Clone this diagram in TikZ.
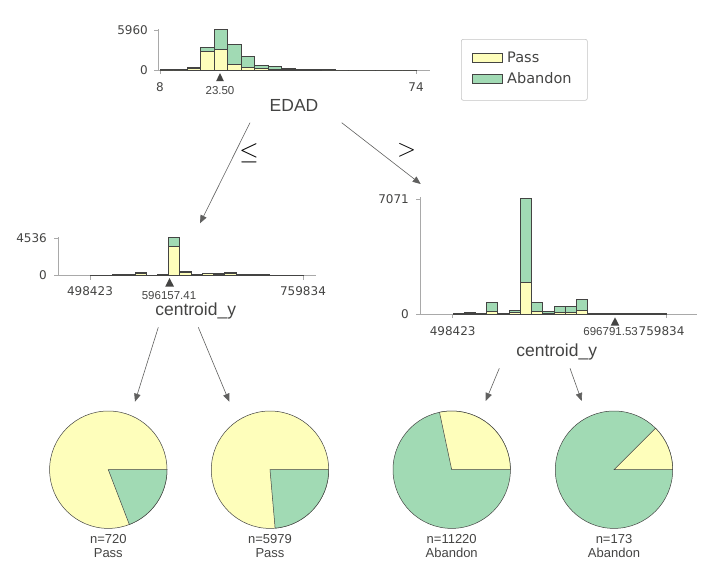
\documentclass[tikz,border=0pt]{standalone}
\usepackage{fontspec}
\setmainfont{DejaVu Sans}
\newfontfamily\arialf{Liberation Sans}
\usetikzlibrary{arrows.meta}
\definecolor{passc}{HTML}{FEFEBB}
\definecolor{abandc}{HTML}{A1DAB4}
\definecolor{edgec}{HTML}{444443}
\definecolor{axisc}{HTML}{A9A9A9}
\begin{document}
\begin{tikzpicture}[x=1pt,y=-1pt,
  axisline/.style={draw=axisc,line width=0.7},
  ticklbl/.style={font=\fontsize{12}{14}\selectfont,text=edgec,inner sep=0pt},
  featlbl/.style={font=\arialf\fontsize{17.5}{20}\selectfont,text=edgec,inner sep=0pt},
  splitlbl/.style={font=\arialf\fontsize{11.5}{13}\selectfont,text=edgec,inner sep=0pt},
  cmplbl/.style={font=\fontsize{23}{26}\selectfont,text=black,inner sep=0pt},
  barg/.style={fill=abandc,draw=edgec,line width=0.4},
  bary/.style={fill=passc,draw=edgec,line width=0.4},
  splitmark/.style={fill=edgec},
  edgearrow/.style={draw=edgec!85,line width=0.6,-{Triangle[length=8pt,width=6.5pt]}},
  piey/.style={fill=passc,draw=edgec,line width=0.5},
  pieg/.style={fill=abandc,draw=edgec,line width=0.5},
  leaflbl/.style={font=\arialf\fontsize{13}{14}\selectfont,text=edgec,align=center,inner sep=0pt},
  legtxt/.style={font=\fontsize{14.5}{16}\selectfont,text=edgec,inner sep=0pt,anchor=west}]
\useasboundingbox (0,0) rectangle (712,576);

% ---------------- root histogram (EDAD) ----------------
\draw[axisline] (158,29) -- (158,70) -- (430,70);
\draw[axisline] (154,30) -- (158,30);
\draw[axisline] (154,70) -- (158,70);
\node[ticklbl,anchor=east] (r5960) at (148,30) {5960};
\node[ticklbl,anchor=east] (r0) at (148,70) {0};
\draw[axisline] (160,70) -- (160,74);
\draw[axisline] (416,70) -- (416,74);
\node[ticklbl] (r8) at (160,87) {8};
\node[ticklbl] (r74) at (416,87) {74};
\foreach \i/\t/\yy in {0/69.6/70,1/69.6/70,2/67.6/67.9,3/47.3/51,4/29.3/48.7,5/44.3/64.3,6/56/67.3,7/65/68.3,8/66.3/69,9/68/69.5,10/69/69.7,11/69.4/69.8,12/69.6/70,13/69.7/70,14/69.7/70,15/69.7/70,16/69.7/70,17/69.7/70,18/69.7/70}{
  \draw[barg] ({160+13.47*\i},\t) rectangle ({160+13.47*(\i+1)},70);
  \draw[bary] ({160+13.47*\i},\yy) rectangle ({160+13.47*(\i+1)},70);
}
\fill[splitmark] (220,73) -- (223.8,81) -- (216.2,81) -- cycle;
\node[splitlbl] (rsplit) at (220,91) {23.50};
\node[featlbl] (edad) at (294,105) {EDAD};

% ---------------- legend ----------------
\node[draw=axisc!70,rounded corners=2pt,line width=0.6,minimum width=126pt,minimum height=61pt,anchor=north west,inner sep=0pt] (legend) at (461,39) {};
\draw[bary,line width=0.5] (472,53) rectangle (502,62);
\draw[barg,line width=0.5] (472,74) rectangle (502,83);
\node[legtxt] (lpass) at (507,57.5) {Pass};
\node[legtxt] (laband) at (507,78.5) {Abandon};

% ---------------- left histogram (centroid_y) ----------------
\draw[axisline] (58.3,237) -- (58.3,275.5) -- (316,275.5);
\draw[axisline] (54.3,238.3) -- (58.3,238.3);
\draw[axisline] (54.3,275.5) -- (58.3,275.5);
\node[ticklbl,anchor=east] (l4536) at (47,238.3) {4536};
\node[ticklbl,anchor=east] (l0) at (47,275.5) {0};
\draw[axisline] (90,275.5) -- (90,279.5);
\draw[axisline] (303,275.5) -- (303,279.5);
\node[ticklbl] (l498) at (90,290.7) {498423};
\node[ticklbl] (l759) at (303,290.7) {759834};
\foreach \i/\t/\yy in {0/274.8/275.2,1/274.8/275.2,2/274.4/275,3/274.4/275,4/272/272.7,5/274.8/275.2,6/274/274.6,7/236.7/245.7,8/271.3/272,9/274.3/274.8,10/272.7/273,11/273.3/273.8,12/272/272.7,13/274.5/275,14/274.6/275.1,15/274.6/275.1,16/274.8/275.2,17/274.8/275.2,18/274.8/275.2}{
  \draw[barg] ({90+11.21*\i},\t) rectangle ({90+11.21*(\i+1)},275.5);
  \draw[bary] ({90+11.21*\i},\yy) rectangle ({90+11.21*(\i+1)},275.5);
}
\fill[splitmark] (169.6,278) -- (174,286.7) -- (165.2,286.7) -- cycle;
\node[splitlbl] (lsplit) at (169,295.7) {596157.41};
\node[featlbl] (lfeat) at (195.7,311) {centroid\_y};

% ---------------- right histogram (centroid_y) ----------------
\draw[axisline] (420,197) -- (420,314) -- (697,314);
\draw[axisline] (416,199.3) -- (420,199.3);
\draw[axisline] (416,314) -- (420,314);
\node[ticklbl,anchor=east] (r7071) at (409,199.3) {7071};
\node[ticklbl,anchor=east] (rr0) at (409,314) {0};
\draw[axisline] (452.7,314) -- (452.7,318);
\draw[axisline] (666,314) -- (666,318);
\node[ticklbl] (r498) at (452.7,330.7) {498423};
\node[ticklbl,anchor=west] (r759) at (638.5,330.7) {759834};
\foreach \i/\t/\yy in {0/313.6/313.9,1/312.3/313.6,2/313/313.6,3/302.3/310.7,4/313/313.6,5/309.7/312.3,6/197.7/282.3,7/302.3/311.3,8/311/312.7,9/306.3/311.7,10/305.7/312,11/299/310.3,12/313.3/313.7,13/313.6/313.9,14/313.6/313.9,15/313.3/313.8,16/313.3/313.8,17/313/313.7,18/313.6/313.9}{
  \draw[barg] ({452.7+11.23*\i},\t) rectangle ({452.7+11.23*(\i+1)},314);
  \draw[bary] ({452.7+11.23*\i},\yy) rectangle ({452.7+11.23*(\i+1)},314);
}
\fill[splitmark] (615,317.3) -- (619.3,325.7) -- (610.7,325.7) -- cycle;
\node[splitlbl,anchor=east] (rsplit2) at (638,331.7) {696791.53};
\node[featlbl] (rfeat) at (556.7,352) {centroid\_y};

% ---------------- connectors ----------------
\coordinate (rootL) at (250,122.7);
\coordinate (leftTop) at (200,223.3);
\coordinate (rootR) at (341.7,122.7);
\coordinate (rightTop) at (420.7,184);
\draw[edgearrow] (rootL) -- (leftTop);
\draw[edgearrow] (rootR) -- (rightTop);
\node[cmplbl] (le) at (249,153) {$\leq$};
\node[cmplbl] (gt) at (406.7,150) {$>$};

\coordinate (lhL) at (158.3,327.3);
\coordinate (lhR) at (198.3,327.3);
\coordinate (rhL) at (499.3,368.3);
\coordinate (rhR) at (570,368.3);
\coordinate (p1top) at (135,401.7);
\coordinate (p2top) at (229.3,401.7);
\coordinate (p3top) at (485.7,401);
\coordinate (p4top) at (581.7,401);
\draw[edgearrow] (lhL) -- (p1top);
\draw[edgearrow] (lhR) -- (p2top);
\draw[edgearrow] (rhL) -- (p3top);
\draw[edgearrow] (rhR) -- (p4top);

% ---------------- leaves ----------------
\coordinate (c1) at (108.3,469.7);
\coordinate (c2) at (270,469.7);
\coordinate (c3) at (451.7,469.7);
\coordinate (c4) at (614,469.7);
\def\pr{58.7}
\draw[piey] (c1) circle (\pr);
\draw[pieg] (c1) -- ++(0:\pr) arc (0:69:\pr) -- cycle;
\draw[piey] (c2) circle (\pr);
\draw[pieg] (c2) -- ++(0:\pr) arc (0:85:\pr) -- cycle;
\draw[pieg] (c3) circle (\pr);
\draw[piey] (c3) -- ++(-102:\pr) arc (-102:0:\pr) -- cycle;
\draw[pieg] (c4) circle (\pr);
\draw[piey] (c4) -- ++(-45:\pr) arc (-45:0:\pr) -- cycle;
\node[leaflbl] (n1) at (108.3,546) {n=720\\Pass};
\node[leaflbl] (n2) at (270,546) {n=5979\\Pass};
\node[leaflbl] (n3) at (451.7,546) {n=11220\\Abandon};
\node[leaflbl] (n4) at (614,546) {n=173\\Abandon};
\end{tikzpicture}
\end{document}
